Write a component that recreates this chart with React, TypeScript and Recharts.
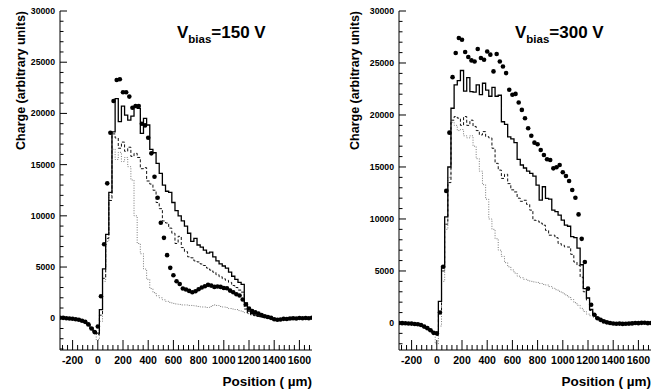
import React from 'react';
import { ComposedChart, Line, XAxis, YAxis } from 'recharts';

// bin centres (µm)
const positions = [
  -300, -275, -250, -225, -200, -175, -150, -125, -100, -75,
  -50, -25, 0, 25, 50, 75, 100, 125, 150, 175,
  200, 225, 250, 275, 300, 325, 350, 375, 400, 425,
  450, 475, 500, 525, 550, 575, 600, 625, 650, 675,
  700, 725, 750, 775, 800, 825, 850, 875, 900, 925,
  950, 975, 1000, 1025, 1050, 1075, 1100, 1125, 1150, 1175,
  1200, 1225, 1250, 1275, 1300, 1325, 1350, 1375, 1400, 1425,
  1450, 1475, 1500, 1525, 1550, 1575, 1600, 1625, 1650, 1675,
  1700,
];

// V bias = 150 V
const leftPoints = [
  50, 40, 0, -20, -50, -100, -150, -250, -350, -600,
  -1000, -1350, -800, 2150, 7230, 13170, 18110, 21210, 23260, 23330,
  22060, 22060, 21640, 20560, 20720, 20720, 18990, 18830, 17620, 16100,
  13810, 11760, 9320, 7850, 6160, 4920, 4200, 3620, 3350, 2900,
  2800, 2670, 2540, 2640, 2830, 3000, 3130, 3260, 3190, 3060,
  3100, 3060, 2960, 2930, 2700, 2540, 2350, 2220, 1830, 1340,
  950, 710, 590, 460, 320, 200, 120, 40, -100, -150,
  -120, -60, -80, -30, 0, -20, 20, 0, 30, 0,
  50,
];
const leftSolid = [
  50, 30, 0, -30, -60, -100, -160, -260, -380, -600,
  -950, -1300, -1450, 850, 4820, 8180, 12300, 18200, 21440, 19190,
  20720, 19840, 19350, 19740, 20720, 20500, 18050, 19520, 18870, 16490,
  16160, 15120, 14140, 13000, 12400, 12300, 11300, 10500, 10000, 9500,
  9000, 8300, 7500, 7800, 7150, 6950, 6650, 6350, 6450, 6000,
  5600, 5300, 5100, 4900, 4500, 4100, 3800, 3500, 3300, 1500,
  700, 450, 320, 230, 150, 100, 60, 20, -60, -100,
  -90, -60, -50, -30, -10, 0, 10, 10, 20, 20,
  30,
];
const leftDashed = [
  50, 30, 0, -30, -60, -100, -160, -260, -380, -600,
  -950, -1300, -1600, 300, 3900, 7800, 11500, 18000, 17600, 16600,
  17200, 16300, 16700, 15800, 16100, 15700, 14600, 14700, 13400, 13100,
  12500, 11300, 10700, 9500, 9300, 8800, 8300, 7300, 8000, 6900,
  6500, 6000, 5900, 5600, 5500, 5300, 5150, 4900, 4700, 4500,
  4250, 4050, 3850, 3700, 3500, 3200, 3000, 2750, 2550, 900,
  500, 330, 250, 180, 120, 80, 40, 0, -60, -100,
  -90, -60, -50, -30, -10, 0, 10, 10, 20, 20,
  30,
];
const leftDotted = [
  50, 30, 0, -30, -60, -100, -170, -280, -420, -650,
  -1000, -1400, -2100, -300, 3600, 7500, 12000, 16500, 15500, 16200,
  15300, 15700, 14800, 13500, 10000, 7300, 6300, 4800, 3800, 2900,
  2500, 2200, 2000, 1800, 1650, 1550, 1450, 1400, 1350, 1300,
  1300, 1250, 1250, 1200, 1150, 1100, 1100, 1050, 1150, 1300,
  1250, 1150, 1100, 1050, 950, 900, 850, 750, 650, 550,
  450, 350, 280, 200, 130, 80, 40, 0, -60, -100,
  -90, -60, -50, -30, -10, 0, 10, 10, 20, 20,
  30,
];

// V bias = 300 V
const rightPoints = [
  0, -20, -30, -50, -60, -100, -130, -200, -350, -500,
  -700, -950, -1000, 1000, 5400, 12700, 18300, 23640, 25960, 27400,
  27240, 26060, 25570, 25250, 25150, 26340, 25480, 25310, 26110, 25800,
  24190, 25860, 25150, 24670, 24030, 22420, 21940, 22030, 21200, 20490,
  19690, 18730, 18000, 17340, 17180, 16630, 16150, 15740, 15670, 14870,
  14970, 15190, 14500, 14130, 13650, 12780, 12040, 10440, 8090, 5860,
  3300, 1750, 790, 460, 300, 150, 60, 0, -50, -80,
  -60, -90, -70, -60, -40, 0, -20, 10, 20, -20,
  0,
];
const rightSolid = [
  0, -20, -30, -50, -60, -100, -140, -210, -360, -520,
  -720, -950, -1050, 2070, 5400, 10200, 15000, 20650, 22900, 23300,
  24280, 22300, 23600, 22250, 22200, 22900, 21950, 23050, 22400, 21800,
  22650, 21800, 21900, 19350, 19100, 17900, 17700, 17340, 15740, 15190,
  14900, 14600, 14390, 14130, 13260, 11810, 13100, 11980, 11900, 10850,
  10700, 10370, 9880, 9400, 9300, 8300, 8200, 7200, 5600, 3300,
  2400, 1300, 800, 500, 330, 180, 80, 20, -40, -70,
  -60, -80, -70, -50, -40, -10, -10, 0, 10, -10,
  0,
];
const rightDashed = [
  0, -20, -30, -50, -60, -100, -140, -210, -360, -520,
  -720, -950, -1200, 1000, 5000, 9500, 13500, 19500, 19850, 19700,
  19000, 19850, 19000, 19500, 18900, 18500, 18080, 18400, 17920, 17800,
  16800, 15350, 14700, 13900, 14300, 13400, 12800, 12600, 12000, 11700,
  11800, 11400, 10850, 9880, 9800, 9600, 9400, 8900, 8440, 8440,
  8200, 7640, 7470, 7310, 7300, 6600, 5860, 5540, 4400, 3000,
  2200, 1200, 700, 450, 300, 170, 80, 20, -40, -70,
  -60, -80, -70, -50, -40, -10, -10, 0, 10, -10,
  0,
];
const rightDotted = [
  0, -20, -30, -50, -60, -100, -150, -230, -380, -560,
  -800, -1100, -2000, -300, 4000, 9000, 14000, 19300, 19000, 18500,
  18600, 18000, 17800, 18000, 17000, 15800, 14600, 13300, 11900, 10000,
  9000, 8100, 7000, 6400, 5800, 5400, 5100, 4800, 4500, 4350,
  4200, 4100, 4000, 3950, 3900, 3800, 3700, 3650, 3500, 3350,
  3200, 3050, 2900, 2700, 2500, 2250, 1950, 1700, 1400, 1100,
  850, 700, 550, 420, 300, 170, 80, 20, -40, -70,
  -60, -80, -70, -50, -40, -10, -10, 0, 10, -10,
  0,
];

const xTicks = [
  -280, -240, -200, -160, -120, -80, -40, 0, 40, 80, 120, 160, 200, 240, 280, 320, 360, 400,
  440, 480, 520, 560, 600, 640, 680, 720, 760, 800, 840, 880, 920, 960, 1000, 1040, 1080,
  1120, 1160, 1200, 1240, 1280, 1320, 1360, 1400, 1440, 1480, 1520, 1560, 1600, 1640, 1680,
];
const leftYTicks = [
  -3000, -2000, -1000, 0, 1000, 2000, 3000, 4000, 5000, 6000, 7000, 8000, 9000, 10000, 11000,
  12000, 13000, 14000, 15000, 16000, 17000, 18000, 19000, 20000, 21000, 22000, 23000, 24000,
  25000, 26000, 27000, 28000, 29000, 30000,
];
const rightYTicks = leftYTicks.slice(1);

const FONT = '"Liberation Sans", Arial, Helvetica, sans-serif';

function makeRows(pts: number[], solid: number[], dashed: number[], dotted: number[]) {
  return positions.map((x, i) => ({ x, pts: pts[i], solid: solid[i], dashed: dashed[i], dotted: dotted[i] }));
}

function XTick(props: any) {
  const { x, y, payload } = props;
  const v = payload.value;
  const major = v % 200 === 0;
  return (
    <g>
      <line x1={x} x2={x} y1={y} y2={y - (major ? 10 : 5)} stroke="#000" strokeWidth={1} />
      {major && (
        <text x={x} y={y + 14} textAnchor="middle" fontFamily={FONT} fontWeight="bold" fontSize={10.5} fill="#000">
          {v}
        </text>
      )}
    </g>
  );
}

function YTick(props: any) {
  const { x, y, payload } = props;
  const v = payload.value;
  const major = v % 5000 === 0;
  return (
    <g>
      <line x1={x} x2={x + (major ? 7 : 3.5)} y1={y} y2={y} stroke="#000" strokeWidth={1} />
      {major && (
        <text x={x - 5} y={y + 3} textAnchor="end" fontFamily={FONT} fontWeight="bold" fontSize={8.7} fill="#000">
          {v}
        </text>
      )}
    </g>
  );
}

function Panel({ rows, yMin, yTicks, axisWidth, width, marginRight }: any) {
  const yDomain = [yMin, 30000];
  return (
    <ComposedChart
      width={width}
      height={392}
      data={rows}
      margin={{ top: 11, right: marginRight, bottom: 0, left: 0 }}
    >
      <XAxis
        dataKey="x"
        type="number"
        domain={[-300, 1700]}
        ticks={xTicks}
        interval={0}
        height={42}
        tickSize={0}
        tickMargin={0}
        tick={<XTick />}
        axisLine={{ stroke: '#000', strokeWidth: 1 }}
        allowDataOverflow
      />
      <XAxis
        xAxisId="frame"
        orientation="top"
        type="number"
        domain={[-300, 1700]}
        height={0}
        tick={false}
        tickLine={false}
        axisLine={{ stroke: '#000', strokeWidth: 1 }}
      />
      <YAxis
        type="number"
        domain={yDomain}
        ticks={yTicks}
        interval={0}
        width={axisWidth}
        tickSize={0}
        tickMargin={0}
        tick={<YTick />}
        axisLine={{ stroke: '#000', strokeWidth: 1 }}
        allowDataOverflow
      />
      <YAxis
        yAxisId="frame"
        orientation="right"
        type="number"
        domain={yDomain}
        width={0}
        tick={false}
        tickLine={false}
        axisLine={{ stroke: '#000', strokeWidth: 1 }}
      />
      <Line type="step" dataKey="dotted" stroke="#7a7a7a" strokeWidth={1} strokeDasharray="1 1.5" dot={false} activeDot={false} isAnimationActive={false} />
      <Line type="step" dataKey="dashed" stroke="#111" strokeWidth={1} strokeDasharray="3 2" dot={false} activeDot={false} isAnimationActive={false} />
      <Line type="step" dataKey="solid" stroke="#000" strokeWidth={1.3} dot={false} activeDot={false} isAnimationActive={false} />
      <Line
        type="linear"
        dataKey="pts"
        stroke="none"
        dot={{ r: 2.3, fill: '#000', stroke: 'none' }}
        activeDot={false}
        isAnimationActive={false}
      />
    </ComposedChart>
  );
}

function BiasLabel({ x, volts }: { x: number; volts: number }) {
  return (
    <text x={x} y={38} fontFamily={FONT} fontWeight="bold" fontSize={17} fill="#000">
      <tspan>V</tspan>
      <tspan fontSize={11.5} dy={5}>bias</tspan>
      <tspan dy={-5}>{`=${volts} V`}</tspan>
    </text>
  );
}

export default function App() {
  const leftRows = makeRows(leftPoints, leftSolid, leftDashed, leftDotted);
  const rightRows = makeRows(rightPoints, rightSolid, rightDashed, rightDotted);
  return (
    <div style={{ position: 'absolute', left: 0, top: 0, width: 667, height: 392, background: '#fff', overflow: 'hidden' }}>
      <div style={{ position: 'absolute', left: 0, top: 0 }}>
        <Panel rows={leftRows} yMin={-3100} yTicks={leftYTicks} axisWidth={60} width={333} marginRight={21} />
      </div>
      <div style={{ position: 'absolute', left: 333, top: 0 }}>
        <Panel rows={rightRows} yMin={-2600} yTicks={rightYTicks} axisWidth={66} width={334} marginRight={16} />
      </div>
      <svg width={667} height={392} style={{ position: 'absolute', left: 0, top: 0, pointerEvents: 'none' }}>
        <text transform="translate(25,11) rotate(-90)" textAnchor="end" fontFamily={FONT} fontWeight="bold" fontSize={12.5} fill="#000">
          Charge (arbitrary units)
        </text>
        <text transform="translate(359,11) rotate(-90)" textAnchor="end" fontFamily={FONT} fontWeight="bold" fontSize={12.5} fill="#000">
          Charge (arbitrary units)
        </text>
        <text x={312} y={386} textAnchor="end" fontFamily={FONT} fontWeight="bold" fontSize={13.5} fill="#000">
          Position (  µm)
        </text>
        <text x={651} y={386} textAnchor="end" fontFamily={FONT} fontWeight="bold" fontSize={13.5} fill="#000">
          Position (  µm)
        </text>
        <BiasLabel x={177} volts={150} />
        <BiasLabel x={515} volts={300} />
      </svg>
    </div>
  );
}
